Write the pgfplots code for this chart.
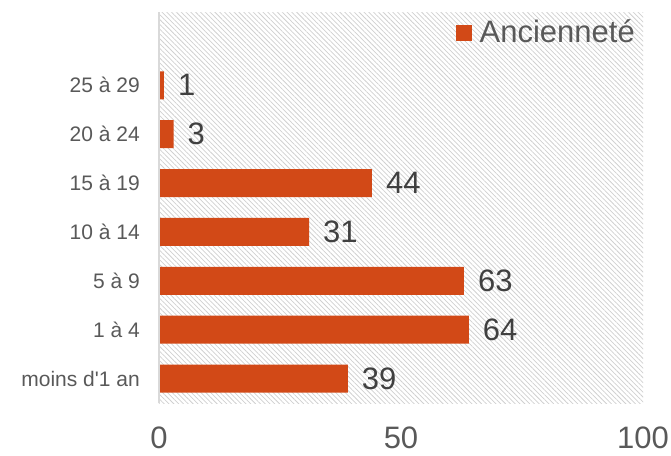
\documentclass[border=0pt]{standalone}
\usepackage{fontspec}
\setmainfont{Liberation Sans}[Ligatures=TeXOff]
\usepackage{pgfplots}
\pgfplotsset{compat=1.18}
\usetikzlibrary{patterns.meta}
\definecolor{barorange}{RGB}{210,73,23}
\definecolor{txtgray}{RGB}{89,89,89}
\definecolor{lblgray}{RGB}{64,64,64}
\definecolor{hatch}{RGB}{208,208,208}
\definecolor{axgray}{RGB}{217,217,217}
\begin{document}
\begin{tikzpicture}
\begin{axis}[
  scale only axis, width=484bp, height=391bp,
  xmin=0, xmax=100, ymin=-0.5, ymax=7.5,
  xbar, bar width=28bp,
  axis background/.style={pattern={Lines[angle=-45,distance=3.4bp,line width=0.75bp]}, pattern color=hatch},
  axis line style={draw=none},
  major tick length=0pt, tick style={draw=none},
  xtick={0,50,100},
  ytick={0,1,2,3,4,5,6},
  yticklabels={moins d'1 an,1 à 4,5 à 9,10 à 14,15 à 19,20 à 24,25 à 29},
  /pgf/number format/assume math mode=true,
  xticklabel style={font=\fontsize{31bp}{37bp}\selectfont, text=txtgray, inner sep=0pt, anchor=north, yshift=-24bp},
  yticklabel style={font=\fontsize{21bp}{25bp}\selectfont, text=txtgray, inner sep=0pt, anchor=east, xshift=-19bp},
  point meta=x,
  nodes near coords,
  nodes near coords style={font=\fontsize{31bp}{37bp}\selectfont, text=lblgray, anchor=west, inner sep=0pt, xshift=14bp},
  legend style={at={(0.983,0.949)}, anchor=east, draw=none, fill=none, inner sep=0pt, outer sep=0pt,
    font=\fontsize{31bp}{37bp}\selectfont, text=txtgray, nodes={inner sep=0pt},
    /tikz/every odd column/.append style={column sep=8bp}},
  legend image code/.code={\fill[barorange] (0bp,-9bp) rectangle (16bp,7bp);},
  extra description/.code={\draw[axgray, line width=1.3bp] (rel axis cs:0,0) -- (rel axis cs:0,1);},
]
\addplot[fill=barorange, draw=none] coordinates {(39,0) (64,1) (63,2) (31,3) (44,4) (3,5) (1,6)};
\addlegendentry{Ancienneté}
\end{axis}
\pgfresetboundingbox
\path[use as bounding box] (-159bp,-53bp) rectangle (512bp,403bp);
\end{tikzpicture}
\end{document}
